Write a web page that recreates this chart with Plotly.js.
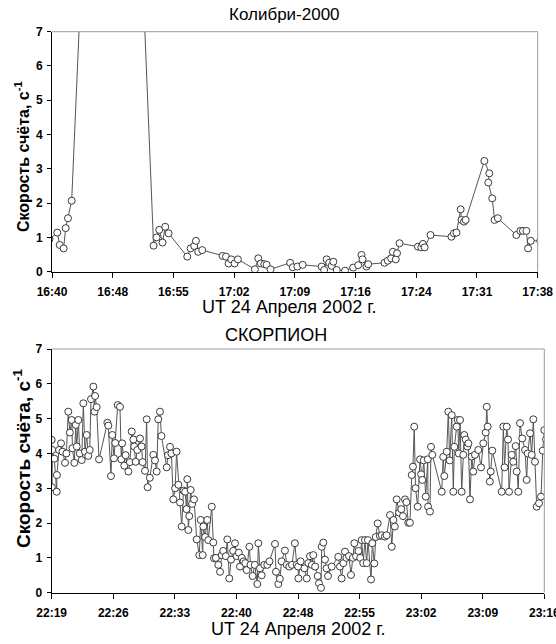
<!DOCTYPE html>
<html>
<head>
<meta charset="utf-8">
<script src="https://cdn.plot.ly/plotly-3.0.1.min.js"></script>
<style>html,body{margin:0;padding:0;background:#fff;}#chart{width:556px;height:644px;}</style>
</head>
<body>
<div id="chart"></div>
<script>
// ---- Data: top panel (Колибри-2000), minutes after 16:40 ----
const topMin = [-0.3, 0.63, 0.92, 1.39, 1.63, 1.91, 2.35, 3.5, 5.5, 7.5, 9.5, 10.9, 12.13, 12.49, 12.81, 13.20, 13.52, 13.92, 16.15, 16.55, 16.98, 17.19, 17.46, 17.94, 20.37, 20.77, 21.09, 21.40, 21.80, 22.20, 24.23, 24.63, 24.95, 25.35, 25.63, 26.10, 28.44, 28.76, 29.30, 29.93, 32.20, 32.50, 32.80, 33.10, 33.40, 33.60, 34.00, 35.00, 35.96, 36.56, 36.96, 37.08, 37.56, 37.76, 39.70, 40.10, 40.50, 40.70, 41.05, 41.20, 41.50, 43.70, 44.10, 44.30, 44.50, 45.20, 47.70, 48.00, 48.30, 48.80, 48.90, 49.20, 49.40, 51.63, 52.22, 52.10, 52.57, 52.85, 53.24, 55.45, 55.93, 56.24, 56.65, 56.85, 57.17, 58.30];
const topVal = [0.95, 1.14, 0.78, 0.68, 1.27, 1.56, 2.07, 8.55, 22, 35, 20, 8.14, 0.76, 1.00, 1.22, 0.85, 1.31, 1.12, 0.44, 0.68, 0.75, 0.90, 0.58, 0.63, 0.46, 0.44, 0.24, 0.36, 0.24, 0.36, 0.07, 0.39, 0.24, 0.22, 0.20, 0.07, 0.26, 0.13, 0.15, 0.20, 0.15, 0.05, 0.36, 0.26, 0.17, 0.29, 0.05, 0.03, 0.12, 0.19, 0.49, 0.36, 0.15, 0.22, 0.26, 0.32, 0.39, 0.58, 0.36, 0.54, 0.83, 0.73, 0.71, 0.81, 0.71, 1.07, 1.02, 1.12, 1.14, 1.82, 1.51, 1.46, 1.51, 3.23, 2.87, 2.60, 2.14, 1.51, 1.56, 1.07, 1.19, 1.19, 1.19, 0.68, 0.90, 0.90];
const topTickLabels = ["16:40", "16:48", "16:55", "17:02", "17:09", "17:16", "17:24", "17:31", "17:38"];
const topSpan = 58;

// ---- Data: bottom panel (СКОРПИОН), minutes after 22:19 ----
const botMin = [0.00, 0.02, 0.07, 0.30, 0.58, 0.60, 0.85, 1.08, 1.25, 1.54, 1.70, 1.92, 2.10, 2.32, 2.40, 2.62, 2.78, 2.90, 3.08, 3.25, 3.47, 3.66, 3.85, 4.05, 4.23, 4.40, 4.55, 4.82, 4.95, 5.02, 5.20, 5.48, 6.44, 6.55, 6.86, 7.01, 7.21, 7.35, 7.64, 7.90, 8.05, 8.15, 8.40, 8.55, 8.87, 9.05, 9.26, 9.45, 9.55, 9.72, 9.90, 10.22, 10.40, 10.52, 10.80, 10.99, 11.10, 11.35, 11.76, 11.95, 12.15, 12.33, 12.53, 12.70, 13.31, 13.45, 13.69, 13.85, 14.07,
  14.28, 14.45, 14.66, 14.85, 15.04, 15.25, 15.44, 15.60, 15.69, 15.81, 15.92, 16.08, 16.25, 16.47, 16.78, 17.08, 17.24, 17.47, 17.55, 17.75, 18.00, 18.12, 18.52, 18.70, 18.78, 19.00, 19.28, 19.48, 19.67, 19.85, 20.15, 20.32, 20.55, 20.75, 21.00, 21.21, 21.40, 21.65, 21.79, 22.00, 22.20, 22.40, 22.56, 22.87, 23.00, 23.25, 23.50, 23.79, 23.91, 24.10, 24.30, 24.60, 24.95, 25.20, 25.84, 25.95, 26.22, 26.40, 26.60, 26.99, 27.20, 27.50, 27.80, 28.14, 28.35,
  28.52, 28.55, 28.80, 29.24, 29.51, 29.70, 29.89, 30.10, 30.27, 30.48, 30.78, 30.93, 31.16, 31.24, 31.43, 31.62, 31.80, 31.97, 32.40, 33.16, 33.35, 33.55, 33.75, 33.94, 34.10, 34.40, 34.63, 34.85, 35.02, 35.22, 35.50, 35.70, 35.87, 36.05, 36.25, 36.45, 36.60, 36.95, 37.10, 37.33, 37.50, 37.72, 37.98, 38.20, 38.56, 38.75, 39.15, 39.35, 39.54, 39.70, 39.92, 40.20, 40.45, 40.65, 40.88, 41.05, 41.26, 41.45, 41.66, 41.80,
  41.95, 42.10, 42.35, 42.62, 42.75, 42.88, 43.05, 43.28, 43.51, 43.55, 43.77, 43.89, 44.04, 45.13, 45.30, 45.43, 45.71, 45.89, 46.05, 46.29, 46.47, 46.59, 46.86, 46.98, 47.10, 47.25, 47.44, 47.63, 47.74, 47.90, 48.10, 48.21, 48.40, 48.60, 48.78, 48.98, 49.36, 49.68, 49.94, 50.22, 50.34, 50.45, 50.70, 50.80, 50.98, 52.07, 52.26, 52.40, 52.65, 52.80, 52.92, 53.23, 53.41, 53.69, 53.81, 53.99, 54.19, 54.45, 54.77, 54.96, 55.08, 55.35, 55.54, 55.73, 55.92, 56.12, 56.39, 56.62, 56.82, 57.00, 57.20];
const botVal = [4.39, 3.03, 4.10, 3.85, 2.90, 3.38, 4.10, 4.29, 4.05, 3.73, 4.00, 5.20, 4.60, 4.96, 4.15, 3.73, 4.82, 4.20, 4.96, 4.00, 3.81, 5.44, 4.05, 4.53, 3.93, 4.10, 5.56, 5.92, 5.20, 5.65, 5.33, 3.83, 4.88, 4.80, 3.35, 4.53, 3.86, 4.30, 5.39, 5.34, 3.83, 4.29, 3.65, 3.95, 3.48, 3.75, 4.63, 4.40, 4.20, 3.76, 4.10, 4.43, 4.20, 3.75, 3.50, 4.98, 3.03, 3.30, 3.96, 3.80, 3.48, 4.98, 5.20, 4.50, 3.60, 3.95, 4.19, 4.00, 2.68,
  3.00, 4.05, 3.10, 2.59, 1.90, 2.93, 2.90, 2.40, 3.26, 1.80, 2.20, 2.95, 2.55, 2.68, 1.53, 1.08, 2.09, 1.08, 1.90, 1.60, 2.09, 1.51, 2.47, 1.44, 0.99, 1.00, 0.80, 0.60, 1.08, 1.20, 1.05, 1.53, 0.41, 0.95, 1.20, 1.42, 1.05, 1.15, 0.75, 1.00, 0.90, 0.85, 0.65, 1.32, 0.80, 0.48, 0.80, 0.25, 1.42, 0.70, 0.50, 0.80, 0.80, 0.90, 1.40, 0.60, 0.25, 0.40, 0.90, 1.21, 0.80, 0.75, 0.80, 1.42, 0.80,
  0.75, 0.41, 0.90, 0.70, 0.41, 0.85, 1.05, 0.80, 1.08, 0.75, 0.48, 0.27, 0.14, 1.32, 1.44, 0.95, 0.70, 0.48, 0.75, 1.03, 0.75, 0.41, 0.85, 1.18, 1.00, 1.05, 0.51, 1.00, 1.42, 1.05, 1.20, 1.00, 1.51, 0.85, 1.51, 0.85, 1.51, 0.38, 1.42, 0.84, 1.60, 1.99, 1.63, 1.65, 1.61, 1.65, 2.23, 1.32, 2.09, 1.90, 2.68, 2.30, 2.40, 2.20, 2.68, 2.60, 2.01, 2.01, 3.38, 3.62,
  4.77, 3.00, 2.47, 3.83, 3.40, 3.24, 3.80, 2.76, 3.83, 2.47, 2.33, 4.19, 3.96, 2.90, 3.90, 3.35, 4.05, 5.20, 3.80, 5.10, 2.90, 4.19, 4.77, 4.96, 4.00, 4.96, 2.90, 3.96, 4.53, 4.40, 4.20, 4.29, 2.68, 3.91, 3.48, 3.96, 4.10, 3.60, 4.29, 4.60, 5.34, 4.77, 3.19, 3.48, 4.08, 2.90, 4.77, 3.60, 4.77, 4.40, 2.90, 3.96, 3.76, 4.21, 3.48, 2.90, 4.87, 4.43, 4.10, 3.24, 4.00, 4.58, 3.96, 4.98, 3.76, 2.47, 2.57, 2.76, 4.08, 4.67, 4.40];
const botTickLabels = ["22:19", "22:26", "22:33", "22:40", "22:48", "22:55", "23:02", "23:09", "23:16"];
const botSpan = 57;

const titleTop = "Колибри-2000";
const titleBot = "СКОРПИОН";
const xTitle = "UT 24 Апреля 2002 г.";
const yTitle = "Скорость счёта, с<sup>-1</sup>";

// ---- Chart ----
const W = 556, H = 644;
const px = v => v / W;
const py = v => 1 - v / H;
const FONT = '"Liberation Sans", Arial, sans-serif';

const markerStyle = {symbol: 'circle', size: 7, color: '#ffffff', line: {color: '#3a3a3a', width: 1}};
const lineStyle = {color: '#555555', width: 1};

const traces = [
  {x: topMin, y: topVal, xaxis: 'x', yaxis: 'y', type: 'scatter', mode: 'lines+markers',
   line: lineStyle, marker: markerStyle, cliponaxis: true, hoverinfo: 'skip'},
  {x: botMin, y: botVal, xaxis: 'x2', yaxis: 'y2', type: 'scatter', mode: 'lines+markers',
   line: lineStyle, marker: markerStyle, cliponaxis: true, hoverinfo: 'skip'}
];

const tickFont = {family: FONT, size: 12, color: '#000', weight: 'bold'};
function xAxis(domain, anchor, labels, span) {
  return {
    domain: domain, anchor: anchor, range: [0, span],
    tickvals: labels.map((_, i) => i * span / (labels.length - 1)),
    ticktext: labels, ticks: 'outside', ticklen: 5, tickwidth: 1, tickcolor: '#000',
    showline: true, linecolor: '#000', linewidth: 1, showgrid: false, zeroline: false,
    tickfont: tickFont, ticklabelstandoff: 4, ticklabeloverflow: 'allow'
  };
}
function yAxis(domain, anchor) {
  return {
    domain: domain, anchor: anchor, range: [0, 7], dtick: 1, tick0: 0,
    ticks: 'outside', ticklen: 4, tickwidth: 1, tickcolor: '#000',
    showline: true, linecolor: '#000', linewidth: 1, showgrid: false, zeroline: false,
    tickfont: tickFont, ticklabelstandoff: 2
  };
}

const layout = {
  width: W, height: H,
  margin: {l: 0, r: 0, t: 0, b: 0},
  paper_bgcolor: '#fff', plot_bgcolor: '#fff',
  showlegend: false,
  font: {family: FONT, color: '#000'},
  xaxis: xAxis([px(52), px(537.7)], 'y', topTickLabels, topSpan),
  yaxis: yAxis([py(271.7), py(31.7)], 'x'),
  xaxis2: xAxis([px(51.7), px(544.3)], 'y2', botTickLabels, botSpan),
  yaxis2: yAxis([py(592.7), py(349)], 'x2'),
  shapes: [
    {type: 'line', xref: 'x domain', yref: 'y domain', x0: 0, x1: 1, y0: 1, y1: 1, line: {color: '#9a9a9a', width: 1}},
    {type: 'line', xref: 'x domain', yref: 'y domain', x0: 1, x1: 1, y0: 0, y1: 1, line: {color: '#9a9a9a', width: 1}},
    {type: 'line', xref: 'x2 domain', yref: 'y2 domain', x0: 0, x1: 1, y0: 1, y1: 1, line: {color: '#9a9a9a', width: 1}},
    {type: 'line', xref: 'x2 domain', yref: 'y2 domain', x0: 1, x1: 1, y0: 0, y1: 1, line: {color: '#9a9a9a', width: 1}}
  ],
  annotations: [
    {text: titleTop, xref: 'paper', yref: 'paper', x: px(284), y: py(15), showarrow: false,
     xanchor: 'center', yanchor: 'middle', font: {family: FONT, size: 17, color: '#000'}},
    {text: titleBot, xref: 'paper', yref: 'paper', x: px(276), y: py(335), showarrow: false,
     xanchor: 'center', yanchor: 'middle', font: {family: FONT, size: 18, color: '#000'}},
    {text: xTitle, xref: 'paper', yref: 'paper', x: px(289), y: py(307), showarrow: false,
     xanchor: 'center', yanchor: 'middle', font: {family: FONT, size: 18, color: '#000'}},
    {text: xTitle, xref: 'paper', yref: 'paper', x: px(298), y: py(629), showarrow: false,
     xanchor: 'center', yanchor: 'middle', font: {family: FONT, size: 18, color: '#000'}},
    {text: yTitle, xref: 'paper', yref: 'paper', x: px(22), y: py(157), showarrow: false, textangle: -90,
     xanchor: 'center', yanchor: 'middle', font: {family: FONT, size: 16, color: '#000', weight: 'bold'}},
    {text: yTitle, xref: 'paper', yref: 'paper', x: px(22), y: py(459), showarrow: false, textangle: -90,
     xanchor: 'center', yanchor: 'middle', font: {family: FONT, size: 19, color: '#000', weight: 'bold'}}
  ]
};

Plotly.newPlot('chart', traces, layout, {staticPlot: true, displayModeBar: false});
</script>
</body>
</html>
